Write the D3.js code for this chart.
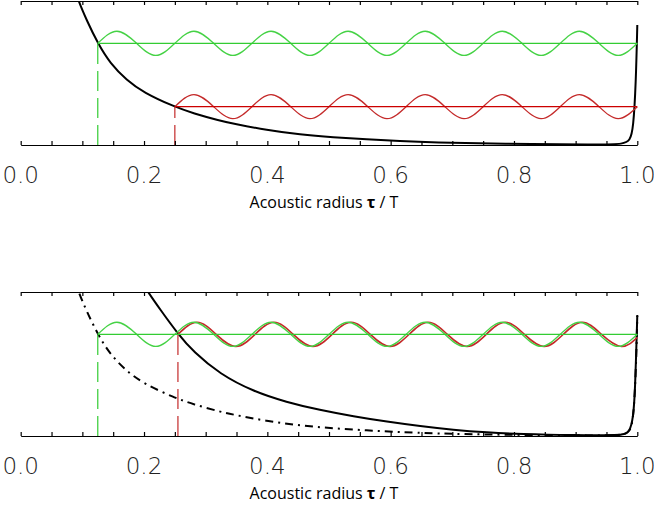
<!DOCTYPE html>
<html>
<head>
<meta charset="utf-8">
<script src="https://cdn.jsdelivr.net/npm/d3@7"></script>
<style>
  body { margin: 0; background: #fff; }
  svg { display: block; }
  .tick-label { font-family: "DejaVu Sans", sans-serif; font-weight: 200; font-size: 23px; fill: #222; }
  .axis-title { font-family: "Open Sans", sans-serif; font-size: 16px; fill: #000; }
</style>
</head>
<body>
<svg id="chart" width="654" height="512"></svg>
<script>
// x axis ticks
const minorTicks = [0, 0.05, 0.1, 0.15, 0.2, 0.25, 0.3, 0.35, 0.4, 0.45, 0.5,
                    0.55, 0.6, 0.65, 0.7, 0.75, 0.8, 0.85, 0.9, 0.95, 1.0];
const majorTicks = [0, 0.2, 0.4, 0.6, 0.8, 1.0];
const tickLabels = ["0.0", "0.2", "0.4", "0.6", "0.8", "1.0"];
const axisTitle = "Acoustic radius ";

// black curve of the upper panel (also the dash-dot curve of the lower one): [tau, value]
const profileA = [[0.085, 1.12], [0.093, 1.007], [0.107, 0.866], [0.125, 0.706], [0.145, 0.567],
  [0.172, 0.45], [0.199, 0.365], [0.249, 0.266], [0.28, 0.22], [0.323, 0.169], [0.345, 0.148],
  [0.399, 0.104], [0.453, 0.072], [0.507, 0.053], [0.561, 0.039], [0.615, 0.027], [0.669, 0.018],
  [0.777, 0.008], [0.94, 0.003], [0.978, 0.006], [0.988, 0.03], [0.9935, 0.11],
  [0.9977, 0.43], [1.0, 0.833]];

// solid black curve of the lower panel
const profileB = [[0.198, 1.06], [0.2043, 1.014], [0.2259, 0.88], [0.2556, 0.706], [0.28, 0.585],
  [0.323, 0.43], [0.377, 0.31], [0.431, 0.235], [0.485, 0.18], [0.54, 0.136], [0.594, 0.099],
  [0.648, 0.068], [0.7015, 0.043], [0.756, 0.025], [0.81, 0.013], [0.9, 0.005], [0.972, 0.004],
  [0.988, 0.019], [0.9935, 0.14], [0.9962, 0.285], [1.0, 0.84]];

// oscillations: tau positions of crossings / peaks / troughs and the values there
const greenTau = [0.125, 0.156, 0.188, 0.219, 0.25, 0.281, 0.313, 0.344, 0.375, 0.406, 0.438,
  0.469, 0.5, 0.531, 0.563, 0.594, 0.625, 0.656, 0.688, 0.719, 0.75, 0.781, 0.813, 0.844,
  0.875, 0.906, 0.938, 0.969, 1.0];
const greenVal = [0.706, 0.79, 0.706, 0.622, 0.706, 0.79, 0.706, 0.622, 0.706, 0.79, 0.706,
  0.622, 0.706, 0.79, 0.706, 0.622, 0.706, 0.79, 0.706, 0.622, 0.706, 0.79, 0.706, 0.622,
  0.706, 0.79, 0.706, 0.622, 0.706];

const redTopTau = [0.25, 0.281, 0.313, 0.344, 0.375, 0.406, 0.438, 0.469, 0.5, 0.531, 0.563,
  0.594, 0.625, 0.656, 0.688, 0.719, 0.75, 0.781, 0.813, 0.844, 0.875, 0.906, 0.938, 0.969, 1.0];
const redTopVal = [0.266, 0.35, 0.266, 0.183, 0.266, 0.35, 0.266, 0.183, 0.266, 0.35, 0.266,
  0.183, 0.266, 0.35, 0.266, 0.183, 0.266, 0.35, 0.266, 0.183, 0.266, 0.35, 0.266, 0.183, 0.266];

const redBotTau = [0.255, 0.286, 0.317, 0.349, 0.38, 0.411, 0.442, 0.474, 0.505, 0.536, 0.567,
  0.599, 0.63, 0.661, 0.692, 0.724, 0.755, 0.786, 0.817, 0.849, 0.88, 0.911, 0.942, 0.974, 1.0];
const redBotVal = [0.706, 0.79, 0.706, 0.622, 0.706, 0.79, 0.706, 0.622, 0.706, 0.79, 0.706,
  0.622, 0.706, 0.79, 0.706, 0.622, 0.706, 0.79, 0.706, 0.622, 0.706, 0.79, 0.706, 0.622, 0.685];

// start points of the horizontal levels: [tau, value]
const greenMark = [0.125, 0.706];
const redTopMark = [0.25, 0.266];
const redBotMark = [0.255, 0.706];

const GREEN = "#33cc33", GREEN_W = "#45d245", RED = "#cc0000", RED_W = "#c42a2a";

const svg = d3.select("#chart");
const x = d3.scaleLinear().domain([0, 1]).range([20.7, 637.3]);

const zip = (a, b) => a.map((t, i) => [t, b[i]]);

function panel(top, bottom, id) {
  const y = d3.scaleLinear().domain([0, 1]).range([bottom, top]);
  const g = svg.append("g");

  svg.append("clipPath").attr("id", id)
    .append("rect").attr("x", 0).attr("y", top).attr("width", 654).attr("height", bottom - top);

  const plot = g.append("g").attr("clip-path", "url(#" + id + ")");

  const smooth = d3.line().x(d => x(d[0])).y(d => y(d[1])).curve(d3.curveBasis);
  const wave = d3.line().x(d => x(d[0])).y(d => y(d[1])).curve(d3.curveNatural);

  // axes
  const bottomAxis = d3.axisBottom(x).tickValues(minorTicks).tickSize(-4).tickSizeOuter(0)
    .tickFormat("");
  const topAxis = d3.axisTop(x).tickValues(minorTicks).tickSize(-4).tickSizeOuter(0)
    .tickFormat("");
  [g.append("g").attr("transform", "translate(0," + bottom + ")").call(bottomAxis),
   g.append("g").attr("transform", "translate(0," + top + ")").call(topAxis)]
    .forEach(a => {
      a.selectAll("path, line").attr("stroke", "#000").attr("stroke-width", 1.2);
    });

  g.selectAll(".tick-label").data(majorTicks).enter().append("text")
    .attr("class", "tick-label")
    .attr("x", d => x(d))
    .attr("y", bottom + 38)
    .attr("text-anchor", "middle")
    .text((d, i) => tickLabels[i]);

  const title = g.append("text").attr("class", "axis-title")
    .attr("x", 324).attr("y", bottom + 63).attr("text-anchor", "middle");
  title.append("tspan").text(axisTitle);
  title.append("tspan").attr("font-weight", 700).text("τ");
  title.append("tspan").text(" / T");

  return { y, plot, smooth, wave };
}

function vdash(p, mark, color) {
  p.plot.append("line")
    .attr("x1", x(mark[0])).attr("x2", x(mark[0]))
    .attr("y1", p.y(0)).attr("y2", p.y(mark[1]))
    .attr("stroke", color).attr("stroke-width", 1.2)
    .attr("stroke-dasharray", "20,7");
}

function hline(p, mark, color) {
  p.plot.append("line")
    .attr("x1", x(mark[0])).attr("x2", x(1))
    .attr("y1", p.y(mark[1])).attr("y2", p.y(mark[1]))
    .attr("stroke", color).attr("stroke-width", 1.3);
}

function curve(p, gen, data, color, width, dash) {
  const path = p.plot.append("path").datum(data)
    .attr("d", gen)
    .attr("fill", "none")
    .attr("stroke", color)
    .attr("stroke-width", width);
  if (dash) path.attr("stroke-dasharray", dash);
}

// upper panel
const upper = panel(1, 145, "clipTop");
curve(upper, upper.smooth, profileA, "#000", 2);
vdash(upper, greenMark, GREEN);
vdash(upper, redTopMark, RED_W);
curve(upper, upper.wave, zip(greenTau, greenVal), GREEN_W, 1.3);
curve(upper, upper.wave, zip(redTopTau, redTopVal), RED_W, 1.3);
hline(upper, greenMark, GREEN);
hline(upper, redTopMark, RED);

// lower panel
const lower = panel(292, 436, "clipBot");
curve(lower, lower.smooth, profileA, "#000", 2, "8,5,2,5");
curve(lower, lower.smooth, profileB, "#000", 2);
vdash(lower, redBotMark, RED_W);
vdash(lower, greenMark, GREEN);
curve(lower, lower.wave, zip(redBotTau, redBotVal), RED_W, 1.6);
curve(lower, lower.wave, zip(greenTau, greenVal), GREEN_W, 1.3);
hline(lower, greenMark, GREEN);
</script>
</body>
</html>
